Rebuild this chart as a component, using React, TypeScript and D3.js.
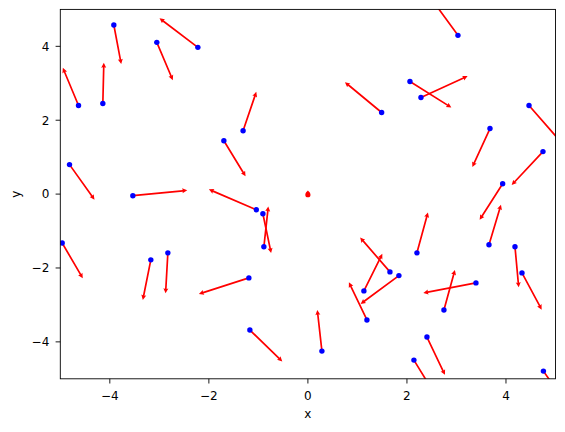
import React from "react";
import * as d3 from "d3";

// Points (base of each arrow), in data units
const px = [-4.632, -4.141, -3.919, -3.051, -2.222, -1.309, 1.489, 3.030, 2.061, 2.283, 4.465, 3.677, -4.814, -3.535, -1.697, -4.962, -1.042, -0.909, -0.889, -3.172, -2.828, -1.192, -1.172, 0.283, 1.131, 1.192, 1.657, 1.838, 2.202, 4.747, 3.933, 3.657, 4.182, 4.323, 3.394, 2.747, 2.404, 2.141, 4.756];
const py = [2.399, 2.453, 4.578, 4.108, 3.973, 1.715, 2.209, 4.298, 3.050, 2.616, 2.399, 1.775, 0.798, -0.043, 1.444, -1.324, -0.423, -0.532, -1.427, -1.780, -1.590, -2.269, -3.680, -4.250, -2.621, -3.408, -2.106, -2.206, -1.590, 1.151, 0.282, -1.373, -1.427, -2.133, -2.404, -3.137, -3.870, -4.494, -4.792];
// Vector components (arrow displacement), in data units
const pu = [-0.317, 0.020, 0.149, 0.323, -0.774, 0.267, -0.741, -0.537, 0.836, 0.943, 0.665, -0.356, 0.505, 1.099, 0.438, 0.416, -0.958, 0.166, 0.089, -0.162, -0.046, -1.010, 0.655, -0.093, 0.372, -0.364, -0.602, -0.774, 0.222, -0.632, -0.465, 0.242, 0.075, 0.398, -1.063, 0.222, 0.364, 0.465, 0.509];
const pv = [1.020, 1.102, -1.058, -1.023, 0.787, 1.053, 0.822, 0.988, -0.706, 0.578, -1.021, -1.042, -0.950, 0.144, -0.963, -0.955, 0.551, -1.064, 1.094, -1.085, -1.096, -0.434, -0.852, 1.113, 1.004, 1.020, 0.931, -0.768, 1.094, -0.906, -0.977, 1.085, -1.096, -0.996, -0.271, 1.085, -1.023, -1.018, -0.977];
// Degenerate (near-zero) vector at the origin
const zeroX = [0];
const zeroY = [0];

const xTicks = [-4, -2, 0, 2, 4];
const yTicks = [-4, -2, 0, 2, 4];
const xDomain: [number, number] = [-5, 5];
const yDomain: [number, number] = [-5, 5];

const W = 565, H = 432;
const L = 60.3, R = 555.5, T = 9.4, B = 378.8;
const FONT = "DejaVu Sans, sans-serif";

function arrowPath(x0: number, y0: number, x1: number, y1: number) {
  const dx = x1 - x0, dy = y1 - y0;
  const len = Math.hypot(dx, dy);
  const ux = dx / len, uy = dy / len;
  const nx = -uy, ny = ux;
  const w = 1.7, hl = 5, hal = 4.5, hw = 5;
  const pts: [number, number][] = [
    [0, -w / 2], [len - hal, -w / 2], [len - hl, -hw / 2], [len, 0],
    [len - hl, hw / 2], [len - hal, w / 2], [0, w / 2],
  ];
  return "M" + pts.map(([a, b]) => `${(x0 + ux * a + nx * b).toFixed(2)},${(y0 + uy * a + ny * b).toFixed(2)}`).join("L") + "Z";
}

function blobPath(cx: number, cy: number) {
  // small teardrop: rounded bottom, slight point on top
  return `M${cx},${cy - 3.6} C${cx + 1.2},${cy - 2.4} ${cx + 2.6},${cy - 1.2} ${cx + 2.6},${cy + 0.6} A2.6,2.6 0 0 1 ${cx - 2.6},${cy + 0.6} C${cx - 2.6},${cy - 1.2} ${cx - 1.2},${cy - 2.4} ${cx},${cy - 3.6}Z`;
}

export default function App() {
  const x = d3.scaleLinear().domain(xDomain).range([L, R]);
  const y = d3.scaleLinear().domain(yDomain).range([B, T]);
  const fmt = (v: number) => (v < 0 ? "\u2212" + Math.abs(v) : String(v));
  return (
    <svg width={W} height={H} style={{ position: "absolute", left: 0, top: 0, background: "#fff" }}>
      <defs>
        <clipPath id="plotclip">
          <rect x={L} y={T} width={R - L} height={B - T} />
        </clipPath>
      </defs>
      <rect x={0} y={0} width={W} height={H} fill="#fff" />
      <g clipPath="url(#plotclip)">
        {px.map((v, i) => (
          <path key={"a" + i} d={arrowPath(x(v), y(py[i]), x(v + pu[i]), y(py[i] + pv[i]))} fill="#ff0000" />
        ))}
        {zeroX.map((v, i) => (
          <path key={"z" + i} d={blobPath(x(v), y(zeroY[i]))} fill="#ff0000" />
        ))}
        {px.map((v, i) => (
          <circle key={"p" + i} cx={x(v)} cy={y(py[i])} r={2.7} fill="#0000ff" />
        ))}
      </g>
      <rect x={L} y={T} width={R - L} height={B - T} fill="none" stroke="#000" strokeWidth={0.9} />
      {xTicks.map((t) => (
        <g key={"xt" + t}>
          <line x1={x(t)} x2={x(t)} y1={B} y2={B + 4.7} stroke="#000" strokeWidth={0.9} />
          <text x={x(t)} y={B + 21.5} textAnchor="middle" fontFamily={FONT} fontSize={12} fill="#000">{fmt(t)}</text>
        </g>
      ))}
      {yTicks.map((t) => (
        <g key={"yt" + t}>
          <line x1={L - 4.7} x2={L} y1={y(t)} y2={y(t)} stroke="#000" strokeWidth={0.9} />
          <text x={L - 11} y={y(t) + 4.3} textAnchor="end" fontFamily={FONT} fontSize={12} fill="#000">{fmt(t)}</text>
        </g>
      ))}
      <text x={(L + R) / 2} y={418} textAnchor="middle" fontFamily={FONT} fontSize={12} fill="#000">x</text>
      <text transform={`translate(20,${(T + B) / 2}) rotate(-90)`} textAnchor="middle" fontFamily={FONT} fontSize={12} fill="#000">y</text>
    </svg>
  );
}
